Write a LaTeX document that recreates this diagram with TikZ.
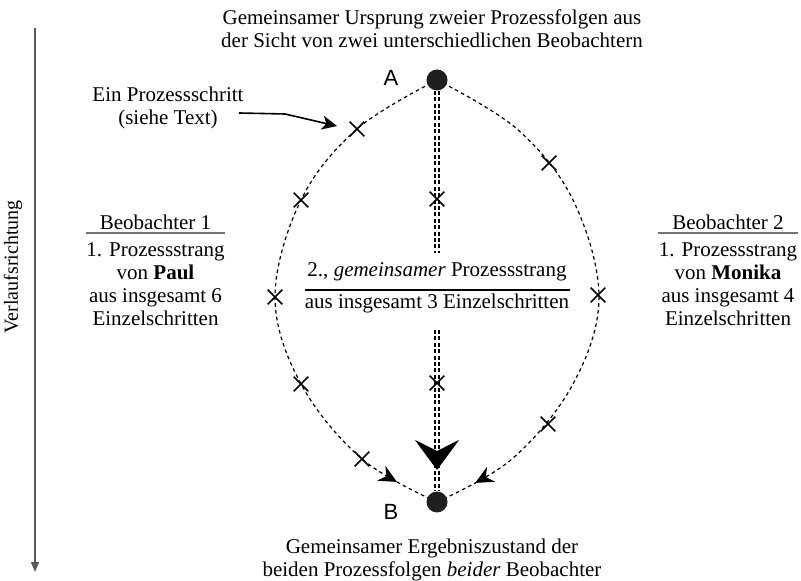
\documentclass[tikz,border=0pt]{standalone}
\usepackage{fontspec}
\setmainfont{Liberation Serif}
\newfontfamily\labelfont{Liberation Sans}
\usetikzlibrary{arrows.meta,decorations.markings,shapes.misc,backgrounds}

\tikzset{
  dot/.style={circle, fill=black!88, inner sep=0pt, minimum size=10.5pt},
  stepmark/.style={cross out, draw, line width=0.8pt, inner sep=0pt, minimum size=6.5pt},
  pointlabel/.style={font=\labelfont\fontsize{11}{12}\selectfont},
  caption/.style={align=center, inner sep=0pt, font=\fontsize{10.5}{11.5}\selectfont},
  lens/.style={line width=0.6pt, dash pattern=on 1.8pt off 1.6pt},
  shared/.style={double, double distance=1.4pt, line width=1pt, dash pattern=on 2pt off 1.2pt},
  flowtip/.style={decoration={markings, mark=at position #1 with {\arrow{Stealth[length=9pt,width=8.5pt,inset=3pt]}}}, postaction={decorate}},
  bigtip/.style={decoration={markings, mark=at position #1 with {\arrow{Stealth[length=15pt,width=22pt,inset=5.5pt]}}}, postaction={decorate}},
  axis/.style={black!65, line width=0.7pt, -{Triangle[length=5pt,width=4pt]}},
  pointer/.style={line width=0.8pt, -{Stealth[length=7.5pt,width=7pt,inset=2pt]}},
  siderule/.style={black!55, line width=0.9pt},
  midrule/.style={black, line width=0.7pt}
}

\begin{document}
\begin{tikzpicture}[x=0.5pt, y=-0.5pt]
\useasboundingbox (0,0) rectangle (801,581);

% start and end states
\node[dot] (A) at (437,80) {};
\node[dot] (B) at (437,502) {};
\node[pointlabel] (Alab) at (391,78) {A};
\node[pointlabel] (Blab) at (391,512) {B};

% single steps of the three strands
\node[stepmark] (l1) at (357,129) {};
\node[stepmark] (l2) at (301,200) {};
\node[stepmark] (l3) at (275,297) {};
\node[stepmark] (l4) at (301,384) {};
\node[stepmark] (l5) at (362,459) {};
\node[stepmark] (r1) at (549,163) {};
\node[stepmark] (r2) at (598,295) {};
\node[stepmark] (r3) at (548,424) {};
\node[stepmark] (m1) at (437,199) {};
\node[stepmark] (m2) at (437,383) {};

% shape points of the right strand (mirror of the left one)
\coordinate (q1) at (517,129);
\coordinate (q2) at (573,200);
\coordinate (q3) at (599,297);
\coordinate (q4) at (573,384);
\coordinate (q5) at (512,459);
% ends of the shared strand segments
\coordinate (ctop) at (437,253);
\coordinate (cbot) at (437,330);

% captions
\node[caption] (top) at (432,29) {Gemeinsamer Ursprung zweier Prozessfolgen aus\\der Sicht von zwei unterschiedlichen Beobachtern};
\node[caption] (bottom) at (432,560) {Gemeinsamer Ergebniszustand der\\beiden Prozessfolgen \textit{beider} Beobachter};
\node[caption] (note) at (168,108) {Ein Prozessschritt\\(siehe Text)};

% observer 1
\node[caption] (obs1head) at (155.5,222) {Beobachter 1};
\node[caption] (obs1) at (155.5,284) {1. Prozessstrang\\von \textbf{Paul}\\aus insgesamt 6\\Einzelschritten};
\coordinate (rule1) at (0,233);
\draw[siderule] (obs1.west |- rule1) -- (obs1.east |- rule1);

% observer 2
\node[caption] (obs2head) at (728,222) {Beobachter 2};
\node[caption] (obs2) at (728,284) {1. Prozessstrang\\von \textbf{Monika}\\aus insgesamt 4\\Einzelschritten};
\draw[siderule] (obs2.west |- rule1) -- (obs2.east |- rule1);

% shared strand caption
\node[caption] (sharedhead) at (437,272) {2., \textit{gemeinsamer} Prozessstrang};
\node[caption] (sharedbody) at (437,303) {aus insgesamt 3 Einzelschritten};
\coordinate (rule2) at (0,290);
\draw[midrule] (sharedbody.west |- rule2) -- (sharedbody.east |- rule2);

% time axis
\coordinate (ax1) at (35,28);
\coordinate (ax2) at (35,572);
\draw[axis] (ax1) -- (ax2);
\node[rotate=90, font=\fontsize{10}{11}\selectfont] (dir) at (13,267) {Verlaufsrichtung};

% pointer to one step
\coordinate (nk) at (285,114);
\draw[pointer, shorten >=6.5pt] ([shift={(-5,5)}]note.east) -- (nk) -- (l1.west);

\begin{pgfonlayer}{background}
  % left strand (observer 1)
  \draw[lens, flowtip=-22.4pt] plot[smooth, tension=0.6] coordinates
    {(A.center) (l1.center) (l2.center) (l3.center) (l4.center) (l5.center) (B.center)};
  % right strand (observer 2)
  \draw[lens, flowtip=-21.4pt] plot[smooth, tension=0.6] coordinates
    {(A.center) (q1) (q2) (q3) (q4) (q5) (B.center)};
  % shared strand
  \draw[shared] (A) -- (ctop);
  \draw[shared] (cbot) -- (B);
  \path[bigtip=-16pt] (cbot) -- (B.center);
\end{pgfonlayer}
\end{tikzpicture}
\end{document}
